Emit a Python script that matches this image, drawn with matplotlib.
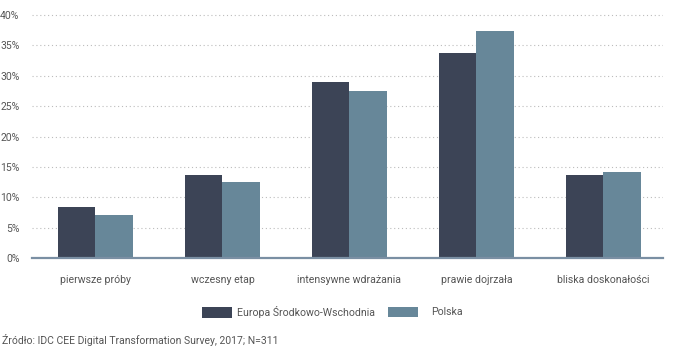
import matplotlib
matplotlib.use("Agg")
import matplotlib.pyplot as plt
from matplotlib.patches import Patch
import numpy as np

categories = ["pierwsze próby", "wczesny etap", "intensywne wdrażania", "prawie dojrzała", "bliska doskonałości"]
series_names = ["Europa Środkowo-Wschodnia", "Polska"]
cee_values = [8.4, 13.7, 28.9, 33.8, 13.7]
pl_values = [7.0, 12.5, 27.5, 37.3, 14.2]
y_ticks = [0, 5, 10, 15, 20, 25, 30, 35, 40]
source_text = "Źródło: IDC CEE Digital Transformation Survey, 2017; N=311"

dark = "#3c4456"
light = "#678799"
text_col = "#555555"

plt.rcParams['font.family'] = ['Roboto', 'DejaVu Sans']

fig = plt.figure(figsize=(6.76, 3.55), dpi=100)
W, H = 676, 355
ax = fig.add_axes([32 / W, 1 - 258 / H, (663 - 32) / W, (258 - 12) / H])

x = np.arange(len(categories))
bw = 0.295
ax.bar(x - bw / 2, cee_values, bw, color=dark, zorder=3)
ax.bar(x + bw / 2, pl_values, bw, color=light, zorder=3)

ax.set_xlim(-0.5, 4.47)
ax.set_ylim(0, 40 * (258 - 12) / (258 - 15))
ax.set_yticks(y_ticks)
ax.set_yticklabels([f"{v}%" for v in y_ticks], fontsize=7.5, color=text_col)
ax.set_xticks(x)
ax.set_xticklabels(categories, fontsize=7.6, color=text_col)
ax.tick_params(axis='both', length=0)
ax.tick_params(axis='x', pad=12)
ax.tick_params(axis='y', pad=9)
ax.grid(axis='y', linestyle=(0, (1, 2.5)), color="#bcbcbc", linewidth=0.8, zorder=0)
for s in ['top', 'right', 'left']:
    ax.spines[s].set_visible(False)
ax.spines['bottom'].set_color("#7a8fa3")
ax.spines['bottom'].set_linewidth(1.6)
ax.spines['bottom'].set_zorder(4)

fs_leg = 7.6
for name, col, x0, pad in [(series_names[0], dark, 202, 0.5), (series_names[1], light, 388, 1.2)]:
    fig.legend(handles=[Patch(facecolor=col, label=name)], loc='center left',
               bbox_to_anchor=(x0 / W, 1 - 312 / H), frameon=False, fontsize=fs_leg,
               handlelength=2.85, handleheight=1.15, handletextpad=pad,
               borderpad=0, borderaxespad=0, labelcolor=text_col)

fig.text(2 / W, 1 - 340 / H, source_text, fontsize=7.5, color=text_col, va='center', ha='left')

fig.savefig("out.png", dpi=100, facecolor="white")
